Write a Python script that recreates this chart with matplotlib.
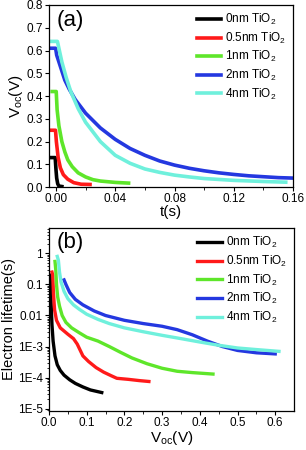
import numpy as np
import matplotlib.pyplot as plt

plt.rcParams["font.family"] = ["Liberation Sans", "DejaVu Sans"]
plt.rcParams["mathtext.fontset"] = "custom"
plt.rcParams["mathtext.rm"] = "Liberation Sans"
plt.rcParams["mathtext.it"] = "Liberation Sans"

labels = ["0nm TiO$_2$", "0.5nm TiO$_2$", "1nm TiO$_2$", "2nm TiO$_2$", "4nm TiO$_2$"]
colors = ["#000000", "#ff1a1a", "#5ee62a", "#2438e0", "#6ff0dc"]

# (a) open-circuit voltage decay
t_0nm = [-0.0035, -0.0005, 0.0, 0.0005, 0.0012, 0.002, 0.004]
v_0nm = [0.13, 0.13, 0.08, 0.04, 0.015, 0.005, 0.003]
t_05nm = [-0.004, -0.0003, 0.0003, 0.0015, 0.003, 0.005, 0.008, 0.012, 0.017, 0.023]
v_05nm = [0.25, 0.25, 0.2, 0.13, 0.085, 0.055, 0.035, 0.02, 0.013, 0.012]
t_1nm = [-0.0025, 0.0002, 0.0008, 0.002, 0.004, 0.006, 0.008, 0.011, 0.015, 0.02,
         0.025, 0.03, 0.04, 0.049]
v_1nm = [0.42, 0.42, 0.34, 0.27, 0.2, 0.155, 0.12, 0.09, 0.063, 0.045,
         0.033, 0.027, 0.021, 0.018]
t_2nm = [-0.0045, -0.0002, 0.0005, 0.003, 0.006, 0.009, 0.013, 0.02, 0.03, 0.04,
         0.05, 0.06, 0.07, 0.08, 0.09, 0.10, 0.11, 0.12, 0.13, 0.14, 0.15, 0.16]
v_2nm = [0.61, 0.61, 0.58, 0.53, 0.47, 0.43, 0.385, 0.325, 0.26, 0.21,
         0.17, 0.14, 0.115, 0.097, 0.083, 0.072, 0.063, 0.056, 0.05, 0.046, 0.042, 0.04]
t_4nm = [-0.0045, 0.001, 0.002, 0.004, 0.007, 0.01, 0.015, 0.02, 0.03, 0.04,
         0.05, 0.06, 0.07, 0.08, 0.09, 0.10, 0.12, 0.14, 0.155]
v_4nm = [0.64, 0.64, 0.61, 0.55, 0.48, 0.42, 0.345, 0.285, 0.2, 0.14,
         0.105, 0.08, 0.065, 0.053, 0.045, 0.038, 0.03, 0.025, 0.022]

# (b) electron lifetime vs Voc
vb_0nm = [0.003, 0.004, 0.006, 0.008, 0.011, 0.016, 0.022, 0.03, 0.04, 0.055,
          0.07, 0.09, 0.11, 0.14]
tau_0nm = [0.2, 0.1, 0.02, 0.005, 0.0015, 5e-4, 2.6e-4, 1.7e-4, 1.2e-4, 8.5e-5,
           6.5e-5, 5e-5, 4e-5, 3.3e-5]
vb_05nm = [0.008, 0.01, 0.012, 0.015, 0.02, 0.03, 0.05, 0.065, 0.075, 0.09,
           0.105, 0.125, 0.145, 0.165, 0.18, 0.21, 0.24, 0.265]
tau_05nm = [0.25, 0.2, 0.05, 0.015, 0.007, 0.004, 0.0025, 0.0018, 0.0012, 5e-4,
            3.3e-4, 2.1e-4, 1.5e-4, 1.15e-4, 9.5e-5, 8.8e-5, 8e-5, 7.5e-5]
vb_1nm = [0.016, 0.018, 0.02, 0.023, 0.028, 0.035, 0.045, 0.06, 0.08, 0.1,
          0.13, 0.16, 0.19, 0.22, 0.26, 0.3, 0.34, 0.38, 0.435]
tau_1nm = [0.55, 0.3, 0.1, 0.04, 0.02, 0.01, 0.006, 0.004, 0.0028, 0.002,
           0.0015, 0.001, 6.5e-4, 4.3e-4, 2.8e-4, 2e-4, 1.6e-4, 1.45e-4, 1.3e-4]
vb_2nm = [0.04, 0.045, 0.055, 0.07, 0.09, 0.12, 0.15, 0.2, 0.25, 0.3,
          0.34, 0.38, 0.42, 0.46, 0.5, 0.55, 0.6]
tau_2nm = [0.14, 0.1, 0.055, 0.033, 0.022, 0.014, 0.01, 0.007, 0.0055, 0.0045,
           0.0035, 0.0024, 0.0015, 0.001, 7.5e-4, 6.3e-4, 5.8e-4]
vb_4nm = [0.022, 0.025, 0.028, 0.032, 0.04, 0.05, 0.065, 0.08, 0.1, 0.13,
          0.16, 0.2, 0.25, 0.3, 0.35, 0.4, 0.45, 0.5, 0.55, 0.61]
tau_4nm = [0.8, 0.6, 0.25, 0.12, 0.06, 0.035, 0.022, 0.016, 0.011, 0.0075,
           0.0055, 0.004, 0.003, 0.0023, 0.0018, 0.0014, 0.0011, 9e-4, 8e-4, 7e-4]

decay = [(t_0nm, v_0nm), (t_05nm, v_05nm), (t_1nm, v_1nm), (t_2nm, v_2nm), (t_4nm, v_4nm)]
lifetime = [(vb_0nm, tau_0nm), (vb_05nm, tau_05nm), (vb_1nm, tau_1nm),
            (vb_2nm, tau_2nm), (vb_4nm, tau_4nm)]

fig = plt.figure(figsize=(3.06, 4.5), dpi=100)
ax1 = fig.add_axes([0.160, 0.584, 0.798, 0.405])
ax2 = fig.add_axes([0.160, 0.087, 0.801, 0.406])

for (x, y), c, lab in zip(decay, colors, labels):
    ax1.plot(x, y, color=c, lw=2.6, label=lab)
for (x, y), c, lab in zip(lifetime, colors, labels):
    ax2.plot(x, y, color=c, lw=2.4, label=lab)

ax1.set_xlim(-0.0047, 0.16)
ax1.set_ylim(0, 0.8)
ax1.set_xticks([0.0, 0.04, 0.08, 0.12, 0.16])
ax1.set_xticks([0.02, 0.06, 0.10, 0.14], minor=True)
ax1.set_xticklabels(["0.00", "0.04", "0.08", "0.12", "0.16"])
ax1.set_yticks(np.arange(0, 0.81, 0.1))
ax1.set_yticklabels([f"{v:.1f}" for v in np.arange(0, 0.81, 0.1)])
ax1.set_xlabel("t(s)", fontsize=11, labelpad=0)
ax1.set_ylabel("V$_{oc}$(V)", fontsize=11, labelpad=1)
ax1.text(0.03, 0.97, "(a)", transform=ax1.transAxes, fontsize=16, va="top")

ax2.set_yscale("log")
ax2.set_xlim(0, 0.65)
ax2.set_ylim(8.5e-6, 6.5)
ax2.set_xticks([0.0, 0.1, 0.2, 0.3, 0.4, 0.5, 0.6])
ax2.set_xticks([0.05, 0.15, 0.25, 0.35, 0.45, 0.55], minor=True)
ax2.set_yticks([1e-5, 1e-4, 1e-3, 1e-2, 1e-1, 1])
ax2.set_yticklabels(["1E-5", "1E-4", "1E-3", "0.01", "0.1", "1"])
ax2.set_xlabel("V$_{oc}$(V)", fontsize=11, labelpad=0)
ax2.set_ylabel("Electron lifetime(s)", fontsize=10.5, labelpad=1)
ax2.text(0.03, 0.98, "(b)", transform=ax2.transAxes, fontsize=16, va="top")

for ax in (ax1, ax2):
    ax.tick_params(which="major", direction="out", length=3, width=0.8, labelsize=8.5, pad=1.5)
    ax.tick_params(which="minor", direction="out", length=1.8, width=0.6)
    for s in ax.spines.values():
        s.set_linewidth(0.9)
    ax.legend(loc="upper right", frameon=False, fontsize=8.5, handlelength=2.1,
              handletextpad=0.3, labelspacing=0.3, borderaxespad=0.2)

fig.savefig("out.png", dpi=100)
